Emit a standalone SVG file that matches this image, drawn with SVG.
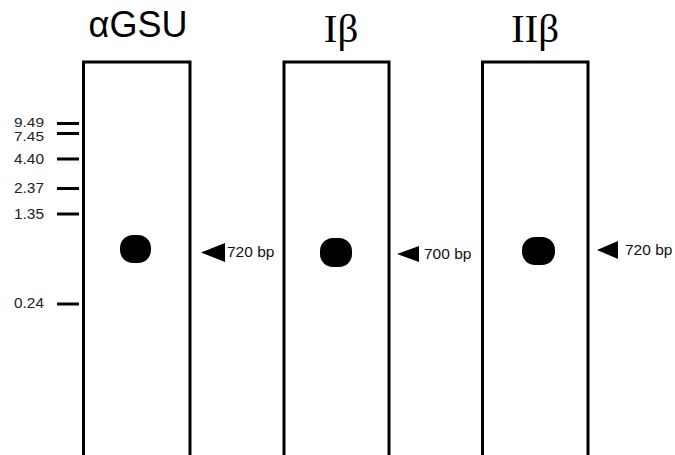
<svg xmlns="http://www.w3.org/2000/svg" width="675" height="455" viewBox="0 0 675 455">
<style>
.lane{fill:none;stroke:#000;stroke-width:3}
.band{fill:#000}
.tick{stroke:#000;stroke-width:3}
.mk{font-family:"Liberation Sans",Arial,sans-serif;font-size:14px;fill:#222;text-anchor:end}
.mks{font-size:13px}
.bp{font-family:"Liberation Sans",Arial,sans-serif;font-size:15.5px;fill:#111}
.ttl{font-family:"Liberation Serif","Times New Roman",serif;font-size:41px;fill:#000;text-anchor:middle}
.ttls{font-family:"Liberation Sans",Arial,sans-serif;font-size:36px;fill:#000;text-anchor:middle}
</style>
<rect width="675" height="455" fill="#fff"/>
<g id="ladder">
<line class="tick" x1="57" y1="123.5" x2="79" y2="123.5"/>
<line class="tick" x1="57" y1="133.5" x2="79" y2="133.5"/>
<line class="tick" x1="57" y1="159" x2="79" y2="159"/>
<line class="tick" x1="57" y1="188.5" x2="79" y2="188.5"/>
<line class="tick" x1="57" y1="214" x2="79" y2="214"/>
<line class="tick" x1="57" y1="304" x2="79" y2="304"/>
<text class="mk mks" x="44" y="126.5" textLength="30" lengthAdjust="spacingAndGlyphs">9.49</text>
<text class="mk mks" x="44" y="141" textLength="30" lengthAdjust="spacingAndGlyphs">7.45</text>
<text class="mk" x="44" y="164" textLength="30" lengthAdjust="spacingAndGlyphs">4.40</text>
<text class="mk" x="44" y="193" textLength="30" lengthAdjust="spacingAndGlyphs">2.37</text>
<text class="mk" x="44" y="219" textLength="30" lengthAdjust="spacingAndGlyphs">1.35</text>
<text class="mk" x="44" y="308" textLength="30" lengthAdjust="spacingAndGlyphs">0.24</text>
</g>
<g id="lane1">
<text class="ttls" x="138" y="37">αGSU</text>
<rect class="lane" x="83.5" y="62" width="106.5" height="400"/>
<rect class="band" x="120" y="235" width="31" height="28" rx="13" ry="13"/>
<polygon class="band" points="201,252.5 225,243 225,262"/>
<text class="bp" x="227" y="257">720 bp</text>
</g>
<g id="lane2">
<text class="ttl" x="341" y="42">Iβ</text>
<rect class="lane" x="284" y="62" width="105" height="400"/>
<rect class="band" x="320" y="238" width="32" height="29" rx="13" ry="13"/>
<polygon class="band" points="397,254 419,246 419,262"/>
<text class="bp" x="424" y="259">700 bp</text>
</g>
<g id="lane3">
<text class="ttl" x="535" y="42">IIβ</text>
<rect class="lane" x="482.5" y="62" width="105.5" height="400"/>
<rect class="band" x="522" y="237" width="33" height="28" rx="13" ry="13"/>
<polygon class="band" points="597,250 618,241 618,259"/>
<text class="bp" x="625" y="255">720 bp</text>
</g>
</svg>
